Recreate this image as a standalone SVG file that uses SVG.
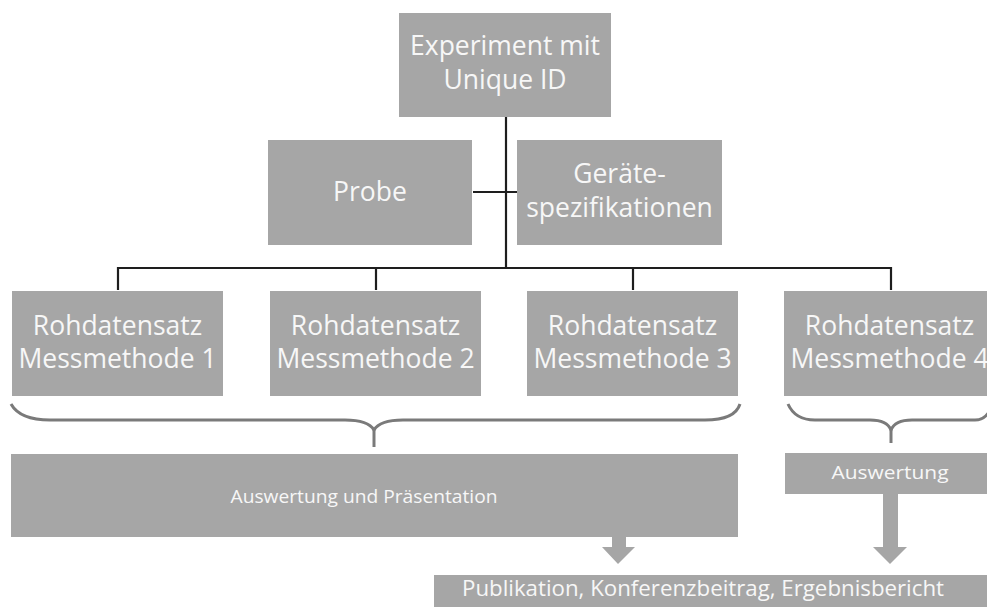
<svg xmlns="http://www.w3.org/2000/svg" width="987" height="607" viewBox="0 0 987 607">
<style>
.box{fill:#a6a6a6;}
.t{font-family:"Open Sans","Noto Sans",sans-serif;fill:#f7f7f7;text-anchor:middle;}
.big{font-size:26.5px;}
.md{font-size:19px;}
.lg{font-size:21.5px;}
.ln{stroke:#1e1e1e;stroke-width:2.2;fill:none;}
.br{stroke:#7a7a7a;stroke-width:3;fill:none;}
.ar{fill:#a6a6a6;}
</style>
<rect width="987" height="607" fill="#ffffff"/>
<g id="connectors">
<line class="ln" x1="506" y1="117" x2="506" y2="268"/>
<line class="ln" x1="473" y1="192" x2="517" y2="192"/>
<polyline class="ln" points="118,290 118,268 891,268 891,290"/>
<line class="ln" x1="376" y1="268" x2="376" y2="290"/>
<line class="ln" x1="633" y1="268" x2="633" y2="290"/>
<path class="br" d="M11,404 Q20,420 50,420 L345,420 Q368,420 374,430 Q380,420 403,420 L705,420 Q735,420 740,404"/>
<line class="br" x1="374" y1="428" x2="374" y2="447"/>
<path class="br" d="M788,404 Q795,420 815,420 L870,420 Q887,420 891,430 Q895,420 912,420 L975,420 Q985,420 990,410"/>
<line class="br" x1="891" y1="428" x2="891" y2="443"/>
<polygon class="ar" points="612,537 626,537 626,547 635,547 618,564 602,547 612,547"/>
<polygon class="ar" points="883,494 898,494 898,547 907,547 890,564 873,547 883,547"/>
</g>
<g id="experiment">
<rect class="box" x="399" y="13" width="212" height="104"/>
<text class="t big" x="505" y="55">Experiment mit</text>
<text class="t big" x="505" y="89">Unique ID</text>
</g>
<g id="probe">
<rect class="box" x="268" y="140" width="204" height="105"/>
<text class="t big" x="370" y="201">Probe</text>
</g>
<g id="geraete">
<rect class="box" x="517" y="140" width="205" height="105"/>
<text class="t big" x="619.5" y="183">Geräte-</text>
<text class="t big" x="619.5" y="217">spezifikationen</text>
</g>
<g id="roh1">
<rect class="box" x="12" y="291" width="211" height="105"/>
<text class="t big" x="117.5" y="335">Rohdatensatz</text>
<text class="t big" x="117.5" y="368">Messmethode 1</text>
</g>
<g id="roh2">
<rect class="box" x="270" y="291" width="211" height="105"/>
<text class="t big" x="375.5" y="335">Rohdatensatz</text>
<text class="t big" x="375.5" y="368">Messmethode 2</text>
</g>
<g id="roh3">
<rect class="box" x="527" y="291" width="211" height="105"/>
<text class="t big" x="632.5" y="335">Rohdatensatz</text>
<text class="t big" x="632.5" y="368">Messmethode 3</text>
</g>
<g id="roh4">
<rect class="box" x="784" y="291" width="211" height="105"/>
<text class="t big" x="889.5" y="335">Rohdatensatz</text>
<text class="t big" x="889.5" y="368">Messmethode 4</text>
</g>
<g id="auswertung-praesentation">
<rect class="box" x="11" y="454" width="727" height="83"/>
<text class="t md" x="364" y="503" textLength="267" lengthAdjust="spacingAndGlyphs">Auswertung und Präsentation</text>
</g>
<g id="auswertung">
<rect class="box" x="785" y="453" width="205" height="41"/>
<text class="t md" x="890" y="479" textLength="117" lengthAdjust="spacingAndGlyphs">Auswertung</text>
</g>
<g id="publikation">
<rect class="box" x="434" y="575" width="556" height="35"/>
<text class="t lg" x="703" y="596" textLength="482" lengthAdjust="spacingAndGlyphs">Publikation, Konferenzbeitrag, Ergebnisbericht</text>
</g>
</svg>
